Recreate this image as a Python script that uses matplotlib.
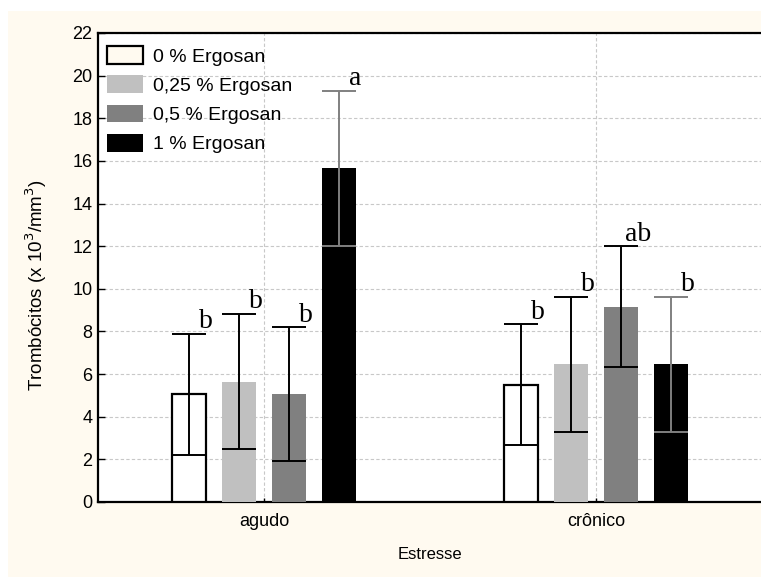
import matplotlib
matplotlib.use("Agg")
import matplotlib.pyplot as plt
from matplotlib.patches import Patch, Rectangle
import numpy as np

categories = ["agudo", "crônico"]
series = ["0 % Ergosan", "0,25 % Ergosan", "0,5 % Ergosan", "1 % Ergosan"]
means = {
    "0 % Ergosan": [5.05, 5.5],
    "0,25 % Ergosan": [5.65, 6.45],
    "0,5 % Ergosan": [5.05, 9.17],
    "1 % Ergosan": [15.65, 6.45],
}
errors = {
    "0 % Ergosan": [2.85, 2.83],
    "0,25 % Ergosan": [3.17, 3.17],
    "0,5 % Ergosan": [3.15, 2.83],
    "1 % Ergosan": [3.65, 3.17],
}
letters = {
    "0 % Ergosan": ["b", "b"],
    "0,25 % Ergosan": ["b", "b"],
    "0,5 % Ergosan": ["b", "ab"],
    "1 % Ergosan": ["a", "b"],
}
yticks = list(range(0, 23, 2))

cream = "#FFFAF0"
facecolors = ["white", "#C0C0C0", "#808080", "#000000"]
edgecolors = ["black", "#C0C0C0", "#808080", "#000000"]
errcolors = ["black", "black", "black", "#808080"]

fig = plt.figure(figsize=(7.61, 5.77), dpi=100)
fig.patch.set_facecolor("white")
fig.add_artist(Rectangle((8 / 761, 0), 1, (577 - 11) / 577, transform=fig.transFigure,
                         facecolor=cream, edgecolor="none", zorder=-10))

ax = fig.add_axes([98 / 761, 75 / 577, (762 - 98) / 761, (502 - 33) / 577])
ax.set_facecolor("white")

x = np.arange(len(categories))
width = 0.102
offsets = [-0.225, -0.075, 0.075, 0.225]

for i, s in enumerate(series):
    pos = x + offsets[i]
    ax.bar(pos, means[s], width=width, color=facecolors[i],
           edgecolor=edgecolors[i], linewidth=1.6 if i == 0 else 0, zorder=3)
    ax.errorbar(pos, means[s], yerr=errors[s], fmt="none", ecolor=errcolors[i],
                elinewidth=1.4, capsize=12.2, capthick=1.4, zorder=4)
    for j in range(len(categories)):
        top = means[s][j] + errors[s][j]
        ax.annotate(letters[s][j], (pos[j] + width / 2, top), xytext=(0, 4),
                    textcoords="offset points", ha="center", va="baseline",
                    fontsize=20, family="Liberation Serif", zorder=5)

ax.set_xlim(-0.5, 1.5)
ax.set_ylim(0, 22)
ax.set_yticks(yticks)
ax.set_xticks(x)
ax.set_xticklabels(categories, family="Liberation Sans", fontsize=13)
for lab in ax.get_yticklabels():
    lab.set_family("Liberation Sans")
    lab.set_fontsize(13)
ax.tick_params(axis="y", direction="in", length=5, width=1, pad=4)
ax.tick_params(axis="x", direction="in", length=3, width=1, pad=8)

ax.grid(True, color="#C8C8C8", linestyle=(0, (3, 2)), linewidth=0.8, zorder=0)
ax.set_axisbelow(True)

for side in ["left", "top", "bottom"]:
    ax.spines[side].set_linewidth(1.6)
    ax.spines[side].set_color("black")
ax.spines["right"].set_visible(False)

ax.set_ylabel("Trombócitos (x 10$^3$/mm$^3$)", family="Liberation Sans", fontsize=13.5)
ax.yaxis.set_label_coords(-0.074, 0.463)
ax.set_xlabel("Estresse", family="Liberation Sans", fontsize=12, labelpad=12)

handles = [Patch(facecolor=cream, edgecolor="black", linewidth=1.6),
           Patch(facecolor="#C0C0C0", edgecolor="none"),
           Patch(facecolor="#808080", edgecolor="none"),
           Patch(facecolor="#000000", edgecolor="none")]
leg = ax.legend(handles, series, loc="upper left", bbox_to_anchor=(0.0136, 0.972),
                frameon=False, borderpad=0, borderaxespad=0,
                prop={"family": "Liberation Sans", "size": 14},
                handlelength=1.86, handleheight=1.03, handletextpad=0.5, labelspacing=0.5)
leg.set_zorder(6)

fig.savefig("out.png", dpi=100)
